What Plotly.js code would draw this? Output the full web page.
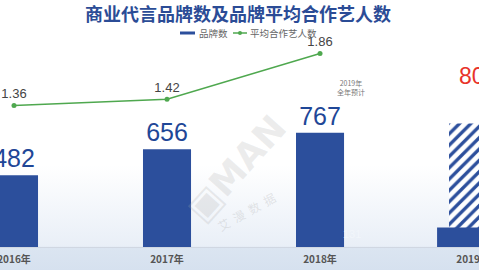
<!DOCTYPE html>
<html>
<head>
<meta charset="utf-8">
<script src="https://cdn.plot.ly/plotly-3.0.1.min.js"></script>
<style>
html,body{margin:0;padding:0;}
body{width:479px;height:270px;overflow:hidden;
background:linear-gradient(to bottom,#ffffff 0px,#ffffff 165px,#e9eff7 246px,#dbe5f1 248px,#d6e1ef 270px);}
#chart{width:479px;height:270px;}
</style>
</head>
<body>
<div id="chart"></div>
<script>
var categories = ['2016年', '2017年', '2018年', '2019年'];
var brandCounts = [482, 656, 767, null];
var forecast2019 = [null, null, null, 830];
var forecastLabel = '800';
var firstHalf2019 = [null, null, null, 131];
var firstHalfLabel = '131';
var avgArtists = [1.36, 1.42, 1.86, null];
var seriesNames = ['品牌数', '平均合作艺人数'];
var forecastNote = '2019年<br>全年预计';

var blue = '#2c4f9c';
var green = '#4fa84f';
var font = '"Noto Sans CJK SC", "Noto Sans", sans-serif';

var traces = [
  {
    type: 'bar', x: categories, y: forecast2019, width: 0.314,
    marker: {color: '#ffffff', line: {width: 0},
      pattern: {shape: '/', fgcolor: blue, bgcolor: '#ffffff', size: 8, solidity: 0.42}},
    showlegend: false, hoverinfo: 'skip'
  },
  {
    type: 'bar', x: categories, y: firstHalf2019, width: 0.47,
    marker: {color: blue}, showlegend: false, hoverinfo: 'skip'
  },
  {
    type: 'bar', name: seriesNames[0], x: categories, y: brandCounts, width: 0.314,
    marker: {color: blue}, showlegend: false,
    text: brandCounts.map(function(v){return v === null ? '' : String(v);}),
    textposition: 'outside', cliponaxis: false,
    textfont: {family: 'Liberation Sans, Arial, sans-serif', size: 25, color: '#1f4797'}
  },
  {
    type: 'scatter', mode: 'lines+markers+text', name: seriesNames[1],
    x: categories, y: avgArtists, yaxis: 'y2', showlegend: false,
    line: {color: green, width: 1.5},
    marker: {color: green, size: 5},
    text: avgArtists.map(function(v){return v === null ? '' : v.toFixed(2);}),
    textposition: 'top center', cliponaxis: false,
    textfont: {family: 'Liberation Sans, Arial, sans-serif', size: 13, color: '#444444'}
  }
];

function px(x){ return x / 479; }
function py(y){ return (270 - 23 - y) / 207; }

var layout = {
  width: 479, height: 270,
  margin: {l: 0, r: 0, t: 40, b: 23},
  paper_bgcolor: 'rgba(0,0,0,0)', plot_bgcolor: 'rgba(0,0,0,0)',
  barmode: 'overlay',
  title: {text: '<b>商业代言品牌数及品牌平均合作艺人数</b>', x: 0.497, xanchor: 'center',
    y: 0.945, yanchor: 'middle', font: {family: font, size: 18, color: '#2b4c96'}},
  showlegend: false,
  xaxis: {type: 'category', range: [-0.0915, 3.039], showgrid: false, zeroline: false,
    showline: true, linecolor: '#d0d7e2', linewidth: 1, ticks: '', ticklabelstandoff: 3,
    tickfont: {family: font, size: 10, color: '#555555', weight: 'bold'}},
  yaxis: {range: [0, 1390], visible: false, showgrid: false, zeroline: false},
  yaxis2: {range: [0, 1.99], overlaying: 'y', side: 'right', visible: false, showgrid: false, zeroline: false},
  shapes: [
    {type: 'rect', xref: 'paper', yref: 'paper', x0: px(180), x1: px(195), y0: py(34.5), y1: py(31.5),
      fillcolor: blue, line: {width: 0}},
    {type: 'line', xref: 'paper', yref: 'paper', x0: px(233), x1: px(247), y0: py(33), y1: py(33),
      line: {color: green, width: 1.5}},
    {type: 'circle', xref: 'paper', yref: 'paper', x0: px(238), x1: px(242), y0: py(35), y1: py(31),
      fillcolor: green, line: {width: 0}}
  ],
  annotations: [
    {x: px(197), y: py(33), xref: 'paper', yref: 'paper', xanchor: 'left', yanchor: 'middle',
      text: seriesNames[0], showarrow: false, font: {family: font, size: 9.5, color: '#666666'}},
    {x: px(248), y: py(33), xref: 'paper', yref: 'paper', xanchor: 'left', yanchor: 'middle',
      text: seriesNames[1], showarrow: false, font: {family: font, size: 9.5, color: '#666666'}},
    {x: categories[3], y: forecast2019[3], xref: 'x', yref: 'y', text: forecastLabel, showarrow: false,
      xanchor: 'center', yanchor: 'middle',
      xshift: 5, yshift: 47, font: {family: 'Liberation Sans, Arial, sans-serif', size: 23, color: '#e8332a'}},
    {x: categories[2], y: firstHalf2019[3], xref: 'x', yref: 'y', text: firstHalfLabel, showarrow: false,
      xanchor: 'center', yanchor: 'middle',
      xshift: 32, yshift: -7, font: {family: 'Liberation Sans, Arial, sans-serif', size: 11, color: '#f2f6fb'}},
    {x: px(351), y: py(87), xref: 'paper', yref: 'paper', xanchor: 'center', yanchor: 'middle',
      text: forecastNote, showarrow: false,
      font: {family: font, size: 7, color: '#777777'}},
    {x: px(236), y: py(168), xref: 'paper', yref: 'paper', xanchor: 'center', yanchor: 'middle',
      text: '<b>▣MAN</b>', showarrow: false, textangle: -48,
      font: {family: 'DejaVu Sans, sans-serif', size: 36, color: 'rgba(170,170,170,0.22)'}},
    {x: px(246), y: py(211), xref: 'paper', yref: 'paper', xanchor: 'center', yanchor: 'middle',
      text: '艾  漫  数  据', showarrow: false, textangle: -29,
      font: {family: font, size: 12, color: 'rgba(170,170,170,0.28)'}}
  ]
};

Plotly.newPlot('chart', traces, layout, {displayModeBar: false, staticPlot: true});
</script>
</body>
</html>
